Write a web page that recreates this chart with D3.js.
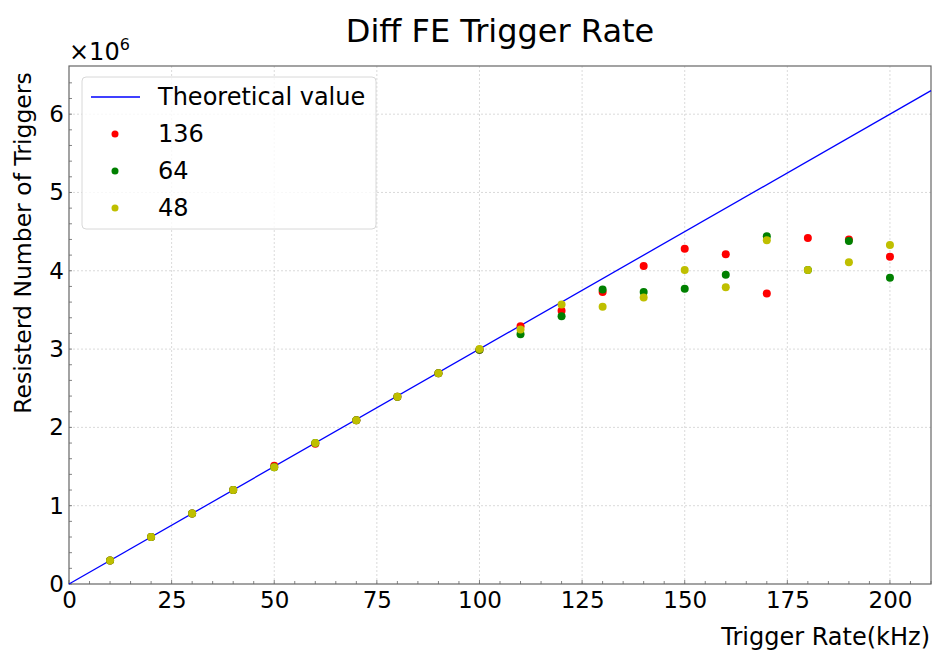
<!DOCTYPE html>
<html>
<head>
<meta charset="utf-8">
<script src="https://cdn.jsdelivr.net/npm/d3@7"></script>
<style>
  body { margin: 0; background: #fff; }
  text { font-family: "DejaVu Sans", sans-serif; fill: #000; }
</style>
</head>
<body>
<div id="chart"></div>
<script>
// Trigger rates (kHz)
var rates = [10, 20, 30, 40, 50, 60, 70, 80, 90, 100, 110, 120, 130, 140, 150, 160, 170, 180, 190, 200];

// Registered triggers (x 1e6) for each setting
var vals136 = [0.30, 0.60, 0.90, 1.20, 1.51, 1.79, 2.09, 2.39, 2.69, 2.99, 3.29, 3.49, 3.73, 4.06, 4.28, 4.21, 3.71, 4.42, 4.40, 4.18];
var vals64  = [0.30, 0.60, 0.90, 1.20, 1.49, 1.80, 2.09, 2.39, 2.69, 2.99, 3.19, 3.42, 3.76, 3.73, 3.77, 3.95, 4.44, 4.01, 4.38, 3.91];
var vals48  = [0.30, 0.60, 0.90, 1.20, 1.49, 1.80, 2.09, 2.39, 2.69, 3.00, 3.25, 3.57, 3.54, 3.66, 4.01, 3.79, 4.39, 4.01, 4.11, 4.33];

// Theoretical value: rate (kHz) * 30 s
var theoryX = [0, 210];
var theoryY = [0, 6.3];

var xTicks = [0, 25, 50, 75, 100, 125, 150, 175, 200];
var yTicks = [0, 1, 2, 3, 4, 5, 6];

var seriesNames = ["136", "64", "48"];
var seriesColors = ["#ff0000", "#008000", "#bfbf00"];
var seriesVals = [vals136, vals64, vals48];

// Define SVG area dimensions
var svgWidth = 933;
var svgHeight = 651;

var chartMargin = { top: 66, right: 2, bottom: 67, left: 69 };
var chartWidth = svgWidth - chartMargin.left - chartMargin.right;
var chartHeight = svgHeight - chartMargin.top - chartMargin.bottom;

var svg = d3.select("#chart")
  .append("svg")
  .attr("width", svgWidth)
  .attr("height", svgHeight);

var chartGroup = svg.append("g")
  .attr("transform", `translate(${chartMargin.left}, ${chartMargin.top})`);

var xScale = d3.scaleLinear().domain([0, 210]).range([0, chartWidth]);
var yScale = d3.scaleLinear().domain([0, 6.615]).range([chartHeight, 0]);

// grid
chartGroup.append("g").selectAll("line")
  .data(xTicks.slice(1))
  .enter().append("line")
  .attr("x1", d => xScale(d)).attr("x2", d => xScale(d))
  .attr("y1", 0).attr("y2", chartHeight)
  .attr("stroke", "#d0d0d0").attr("stroke-width", 0.8)
  .attr("stroke-dasharray", "2,2");

chartGroup.append("g").selectAll("line")
  .data(yTicks.slice(1))
  .enter().append("line")
  .attr("x1", 0).attr("x2", chartWidth)
  .attr("y1", d => yScale(d)).attr("y2", d => yScale(d))
  .attr("stroke", "#d0d0d0").attr("stroke-width", 0.8)
  .attr("stroke-dasharray", "2,2");

// axes (ticks drawn separately, pointing inward)
var bottomAxis = d3.axisBottom(xScale).tickValues(xTicks).tickSize(0).tickPadding(8).tickFormat(d3.format("d"));
var leftAxis = d3.axisLeft(yScale).tickValues(yTicks).tickSize(0).tickPadding(5).tickFormat(d3.format("d"));

var xAxisG = chartGroup.append("g")
  .attr("transform", `translate(0, ${chartHeight})`)
  .call(bottomAxis);
xAxisG.select(".domain").remove();
xAxisG.selectAll("text").style("font-size", "23px").attr("dy", "0.71em");

var yAxisG = chartGroup.append("g").call(leftAxis);
yAxisG.select(".domain").remove();
yAxisG.selectAll("text").style("font-size", "23px");

// minor + major ticks inward
var xMinor = d3.range(0, 211, 5);
chartGroup.append("g").selectAll("line")
  .data(xMinor)
  .enter().append("line")
  .attr("x1", d => xScale(d)).attr("x2", d => xScale(d))
  .attr("y1", chartHeight).attr("y2", d => chartHeight - (d % 25 === 0 ? 4 : 3))
  .attr("stroke", "#666").attr("stroke-width", 0.8);

var yMinor = d3.range(0, 33).map(i => i * 0.2);
chartGroup.append("g").selectAll("line")
  .data(yMinor)
  .enter().append("line")
  .attr("x1", 0).attr("x2", 3)
  .attr("y1", d => yScale(d)).attr("y2", d => yScale(d))
  .attr("stroke", "#666").attr("stroke-width", 0.8);

// frame
chartGroup.append("rect")
  .attr("width", chartWidth).attr("height", chartHeight)
  .attr("fill", "none").attr("stroke", "#666").attr("stroke-width", 1.2);

// theoretical line
var line = d3.line()
  .x((d, i) => xScale(theoryX[i]))
  .y(d => yScale(d));

chartGroup.append("path")
  .datum(theoryY)
  .attr("d", line)
  .attr("fill", "none")
  .attr("stroke", "#0000ff")
  .attr("stroke-width", 1.3);

// points
seriesVals.forEach(function(vals, s) {
  chartGroup.append("g").selectAll("circle")
    .data(vals)
    .enter().append("circle")
    .attr("cx", (d, i) => xScale(rates[i]))
    .attr("cy", d => yScale(d))
    .attr("r", 4)
    .attr("fill", seriesColors[s]);
});

// legend
var legend = svg.append("g").attr("transform", "translate(82, 77)");
legend.append("rect")
  .attr("width", 294).attr("height", 152)
  .attr("rx", 4)
  .attr("fill", "#fff").attr("fill-opacity", 0.8)
  .attr("stroke", "#d8d8d8").attr("stroke-width", 1);
legend.append("line")
  .attr("x1", 9).attr("x2", 58).attr("y1", 20).attr("y2", 20)
  .attr("stroke", "#0000ff").attr("stroke-width", 1.3);
legend.append("text")
  .attr("x", 76).attr("y", 20).attr("dy", "0.35em")
  .style("font-size", "24px")
  .text("Theoretical value");
seriesNames.forEach(function(name, s) {
  var yy = 57 + s * 37;
  legend.append("circle")
    .attr("cx", 33).attr("cy", yy).attr("r", 3.5)
    .attr("fill", seriesColors[s]);
  legend.append("text")
    .attr("x", 76).attr("y", yy).attr("dy", "0.35em")
    .style("font-size", "24px")
    .text(name);
});

// titles
svg.append("text")
  .attr("x", chartMargin.left + chartWidth / 2)
  .attr("y", 42)
  .attr("text-anchor", "middle")
  .style("font-size", "32px")
  .text("Diff FE Trigger Rate");

var mult = svg.append("text")
  .attr("x", 69).attr("y", 60)
  .style("font-size", "24px");
mult.append("tspan").text("\u00d710");
mult.append("tspan").attr("dy", -10).style("font-size", "16px").text("6");

svg.append("text")
  .attr("transform", "translate(31, 243) rotate(-90)")
  .attr("text-anchor", "middle")
  .style("font-size", "23.5px")
  .text("Resisterd Number of Triggers");

svg.append("text")
  .attr("x", 930).attr("y", 645)
  .attr("text-anchor", "end")
  .style("font-size", "24px")
  .text("Trigger Rate(kHz)");
</script>
</body>
</html>
